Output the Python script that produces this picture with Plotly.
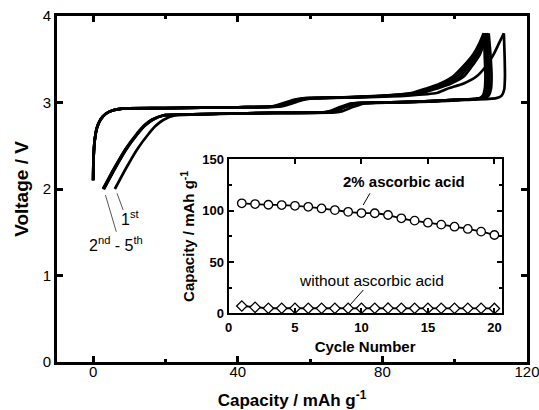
import plotly.graph_objects as go

# ---------------- main panel: charge / discharge curves ----------------
charge_v = [2.10, 2.35, 2.55, 2.70, 2.80, 2.87, 2.91, 2.93, 2.935, 2.945, 2.955, 2.99,
            3.03, 3.05, 3.06, 3.08, 3.11, 3.16, 3.22, 3.30, 3.41, 3.56, 3.68, 3.80]
charge_cap_1 = [0.0, 0.1, 0.4, 1.0, 2.0, 3.5, 5.5, 8.0, 20, 40, 52.0, 55.0, 58.0, 61.0,
                74, 87, 95.0, 98.0, 102.5, 106.0, 108.5, 110.8, 112.2, 113.6]
charge_cap_2 = [0.0, 0.1, 0.4, 1.0, 2.0, 3.5, 5.5, 8.0, 20, 40, 51.0, 54.0, 57.0, 60.0,
                72, 83, 91.0, 95.0, 99.0, 102.5, 104.6, 107.0, 108.1, 109.3]
charge_cap_3 = [0.0, 0.1, 0.4, 1.0, 2.0, 3.5, 5.5, 8.0, 20, 40, 50.5, 53.5, 56.5, 59.5,
                71, 82, 90.0, 94.0, 98.0, 101.5, 103.8, 106.4, 107.6, 108.8]
charge_cap_4 = [0.0, 0.1, 0.4, 1.0, 2.0, 3.5, 5.5, 8.0, 20, 40, 50.0, 53.0, 56.0, 59.0,
                70, 81, 89.0, 93.0, 97.0, 100.5, 103.0, 105.8, 107.2, 108.4]
charge_cap_5 = [0.0, 0.1, 0.4, 1.0, 2.0, 3.5, 5.5, 8.0, 20, 40, 49.5, 52.5, 55.5, 58.5,
                69, 80, 88.0, 92.0, 96.0, 99.5, 102.2, 105.2, 106.8, 108.0]

discharge_v = [3.80, 3.55, 3.30, 3.15, 3.08, 3.05, 3.03, 3.01, 3.00, 2.99, 2.95, 2.90,
               2.885, 2.88, 2.87, 2.86, 2.85, 2.80, 2.73, 2.63, 2.46, 2.24, 2.00]
discharge_cap_1 = [113.6, 113.8, 113.9, 113.7, 113.0, 111.5, 103, 93, 83, 75.0, 72.0, 69.0,
                   67.0, 52, 38, 28, 22.5, 19.5, 17.3, 15.2, 12.2, 9.1, 6.0]
discharge_cap_2 = [109.4, 109.9, 110.2, 110.0, 109.4, 108.0, 100, 90, 80, 73.0, 70.0, 67.0,
                   65.0, 50, 35, 25, 19.5, 16.5, 14.3, 12.2, 9.2, 6.1, 3.0]
discharge_cap_3 = [108.9, 109.3, 109.6, 109.4, 108.8, 107.6, 100, 90, 80, 72.5, 69.5, 66.5,
                   64.5, 50, 35, 25, 19.4, 16.4, 14.2, 12.1, 9.1, 6.0, 2.9]
discharge_cap_4 = [108.5, 108.8, 109.0, 108.8, 108.3, 107.2, 100, 90, 80, 72.0, 69.0, 66.0,
                   64.0, 50, 35, 25, 19.3, 16.3, 14.1, 12.0, 9.0, 5.9, 2.8]
discharge_cap_5 = [108.1, 108.3, 108.5, 108.3, 107.8, 106.8, 100, 90, 80, 71.5, 68.5, 65.5,
                   63.5, 50, 35, 25, 19.2, 16.2, 14.0, 11.9, 8.9, 5.8, 2.7]

main_xticks = [0, 40, 80, 120]
main_yticks = [0, 1, 2, 3, 4]

# ---------------- inset: cycle performance ----------------
cycles = list(range(1, 21))
cap_ascorbic = [107.2, 106.5, 105.8, 105.5, 104.8, 103.8, 102.2, 100.6, 98.9, 97.7,
                97.5, 95.8, 92.6, 90.3, 88.3, 86.4, 84.4, 82.2, 79.6, 76.3]
cap_without = [7.1, 5.8, 4.9, 4.9, 4.9, 4.9, 4.8, 4.8, 4.9, 4.9,
               4.9, 5.0, 4.9, 4.9, 4.8, 4.8, 4.8, 4.8, 4.8, 4.7]
inset_xticks = [0, 5, 10, 15, 20]
inset_yticks = [0, 50, 100, 150]

FONT = "Liberation Sans, Arial, Helvetica, sans-serif"
BLACK = "#000000"

fig = go.Figure()

charges = [charge_cap_1, charge_cap_2, charge_cap_3, charge_cap_4, charge_cap_5]
discharges = [discharge_cap_1, discharge_cap_2, discharge_cap_3, discharge_cap_4, discharge_cap_5]
for cc, dc in zip(charges, discharges):
    fig.add_trace(go.Scatter(x=cc, y=charge_v, mode="lines",
                             line=dict(color=BLACK, width=2.7, shape="spline", smoothing=0.6),
                             showlegend=False, hoverinfo="skip", xaxis="x", yaxis="y"))
    fig.add_trace(go.Scatter(x=dc, y=discharge_v, mode="lines",
                             line=dict(color=BLACK, width=2.7, shape="spline", smoothing=0.6),
                             showlegend=False, hoverinfo="skip", xaxis="x", yaxis="y"))

fig.add_trace(go.Scatter(x=cycles, y=cap_ascorbic, mode="lines+markers",
                         line=dict(color=BLACK, width=1.8, shape="spline"),
                         marker=dict(symbol="circle", size=8.5, color="white",
                                     line=dict(color=BLACK, width=1.3)),
                         showlegend=False, xaxis="x2", yaxis="y2"))
fig.add_trace(go.Scatter(x=cycles, y=cap_without, mode="lines+markers",
                         line=dict(color=BLACK, width=1.8),
                         marker=dict(symbol="diamond", size=8, color="white",
                                     line=dict(color=BLACK, width=1.3)),
                         showlegend=False, xaxis="x2", yaxis="y2"))

fig.update_layout(
    template="none",
    width=539, height=410,
    margin=dict(l=57, r=12, t=16, b=48, autoexpand=False),
    paper_bgcolor="white", plot_bgcolor="white",
    font=dict(family=FONT, color=BLACK),
    showlegend=False,
    xaxis=dict(range=[-10, 120], tickvals=main_xticks, ticks="inside", ticklen=6, tickwidth=2.5,
               minor=dict(dtick=20, tick0=0, ticks="inside", ticklen=3, tickwidth=2.5, tickcolor=BLACK),
               showline=True, linewidth=3, linecolor=BLACK, mirror="ticks", tickcolor=BLACK,
               showgrid=False, zeroline=False, tickfont=dict(size=15),
               ticklabelstandoff=-6, ticklabeloverflow="allow", automargin=False,
               title=dict(text="Capacity / mAh g<sup>-1</sup>",
                          font=dict(size=17, weight="bold"), standoff=30)),
    yaxis=dict(range=[0, 4], tickvals=main_yticks, ticks="inside", ticklen=6, tickwidth=2.5,
               showline=True, linewidth=3, linecolor=BLACK, mirror="ticks", tickcolor=BLACK,
               showgrid=False, zeroline=False, tickfont=dict(size=15), automargin=False,
               title=dict(text="Voltage / V", font=dict(size=19, weight="bold"), standoff=10)),
    xaxis2=dict(domain=[0.3649, 0.9462], anchor="y2", range=[0, 20.55], tickvals=inset_xticks,
                ticks="inside", ticklen=5, tickwidth=1.5, tickcolor=BLACK,
                showline=True, linewidth=2, linecolor=BLACK, mirror="ticks",
                showgrid=False, zeroline=False, tickfont=dict(size=13, weight="bold"),
                ticklabelstandoff=1, automargin=False,
                title=dict(text="Cycle Number", font=dict(size=15, weight="bold"), standoff=8)),
    yaxis2=dict(domain=[0.1408, 0.5855], anchor="x2", range=[0, 150], tickvals=inset_yticks,
                ticks="inside", ticklen=5, tickwidth=1.5, tickcolor=BLACK,
                minor=dict(dtick=25, tick0=0, ticks="inside", ticklen=3, tickwidth=1.5, tickcolor=BLACK),
                showline=True, linewidth=2, linecolor=BLACK, mirror="ticks",
                showgrid=False, zeroline=False, tickfont=dict(size=13, weight="bold"),
                automargin=False,
                title=dict(text="Capacity / mAh g<sup>-1</sup>",
                           font=dict(size=15, weight="bold"), standoff=4)),
)

# leader lines
LEAD = dict(color="#555555", width=1)
fig.add_shape(type="line", xref="x", yref="y", x0=6.6, y0=1.95, x1=8.3, y1=1.757, line=LEAD)
fig.add_shape(type="line", xref="x", yref="y", x0=3.4, y0=1.93, x1=6.4, y1=1.506, line=LEAD)
fig.add_shape(type="line", xref="x2", yref="y2", x0=10.64, y0=117, x1=10.13, y1=105.6,
              line=dict(color=BLACK, width=1))
fig.add_shape(type="line", xref="x2", yref="y2", x0=10.14, y0=22.7, x1=9.14, y1=8.1,
              line=dict(color=BLACK, width=1))

fig.add_annotation(x=10.3, y=1.665, xref="x", yref="y", text="1<sup>st</sup>",
                   showarrow=False, font=dict(size=16))
fig.add_annotation(x=6.3, y=1.36, xref="x", yref="y", text="2<sup>nd</sup> - 5<sup>th</sup>",
                   showarrow=False, font=dict(size=16))
fig.add_annotation(x=13.2, y=128.5, xref="x2", yref="y2", text="2% ascorbic acid",
                   showarrow=False, font=dict(size=15, weight="bold"))
fig.add_annotation(x=10.77, y=32, xref="x2", yref="y2", text="without ascorbic acid",
                   showarrow=False, font=dict(size=15.5))

fig.write_html("out.html")
